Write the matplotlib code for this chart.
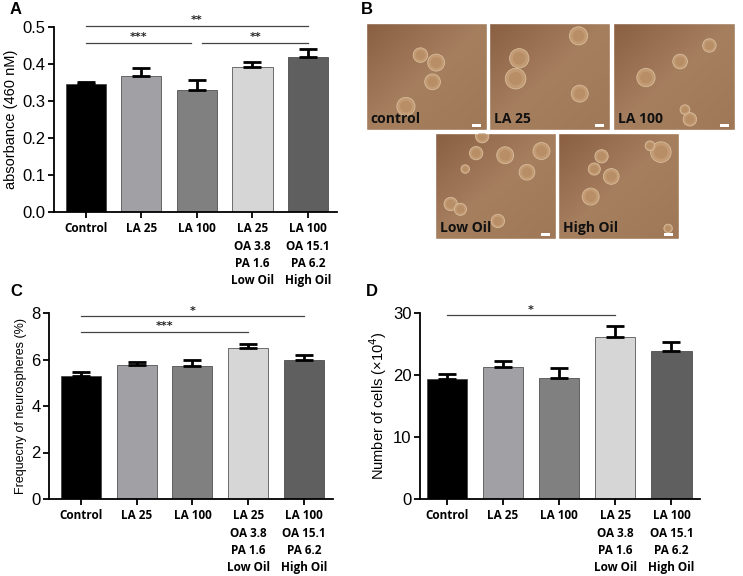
import numpy as np
import matplotlib
matplotlib.use("Agg")
import matplotlib.pyplot as plt
from matplotlib.patches import Ellipse

# groups and tick labels (shared by A, C, D)
groups = ["Control", "LA 25", "LA 100", "Low Oil", "High Oil"]
tick_labels = ["Control", "LA 25", "LA 100",
               "LA 25\nOA 3.8\nPA 1.6\nLow Oil",
               "LA 100\nOA 15.1\nPA 6.2\nHigh Oil"]
bar_colors = ["#000000", "#a1a1a5", "#808080", "#d6d6d6", "#5f5f5f"]

# A: absorbance
abs_mean = [0.345, 0.368, 0.329, 0.393, 0.419]
abs_err = [0.007, 0.021, 0.027, 0.013, 0.022]
abs_sig = [(0, 4, 0.503, "**"), (0, 2, 0.458, "***"), (2, 4, 0.458, "**")]

# C: neurosphere frequency
freq_mean = [5.29, 5.76, 5.71, 6.50, 6.00]
freq_err = [0.19, 0.14, 0.25, 0.16, 0.18]
freq_sig = [(0, 4, 7.86, "*"), (0, 3, 7.19, "***")]

# D: cell number
cells_mean = [19.3, 21.3, 19.5, 26.2, 23.8]
cells_err = [0.9, 0.9, 1.7, 1.7, 1.6]
cells_sig = [(0, 3, 29.6, "*")]

# B: micrograph panels, spheres as (x, y, r) in panel fractions
img_labels = ["control", "LA 25", "LA 100", "Low Oil", "High Oil"]
img_spheres = [
    [(0.45, 0.30, 0.06), (0.58, 0.37, 0.07), (0.55, 0.55, 0.065), (0.33, 0.78, 0.075)],
    [(0.74, 0.12, 0.075), (0.25, 0.33, 0.08), (0.22, 0.52, 0.085), (0.75, 0.66, 0.07)],
    [(0.79, 0.21, 0.055), (0.55, 0.36, 0.06), (0.27, 0.51, 0.075), (0.59, 0.81, 0.04), (0.63, 0.90, 0.055)],
    [(0.39, 0.03, 0.055), (0.34, 0.19, 0.055), (0.58, 0.21, 0.07), (0.88, 0.17, 0.07),
     (0.76, 0.37, 0.065), (0.25, 0.34, 0.035), (0.13, 0.67, 0.055), (0.21, 0.72, 0.05), (0.52, 0.83, 0.055)],
    [(0.85, 0.18, 0.085), (0.76, 0.12, 0.04), (0.36, 0.22, 0.055), (0.30, 0.34, 0.05),
     (0.44, 0.41, 0.065), (0.27, 0.60, 0.07), (0.91, 0.90, 0.035)],
]

W, H = 743, 576
fig = plt.figure(figsize=(W / 100, H / 100), dpi=100)


def px_axes(left, top, right, bottom):
    return fig.add_axes([left / W, 1 - bottom / H, (right - left) / W, (bottom - top) / H])


def bar_panel(ax, means, errs, sigs, ymax, yticks, yfmt, ylabel, ylsize, xlim):
    x = np.arange(len(means))
    ax.bar(x, means, width=0.72, color=bar_colors, edgecolor="#3a3a3a", linewidth=0.5, zorder=2)
    ax.errorbar(x, means, yerr=[np.zeros(len(errs)), errs], fmt="none",
                ecolor="black", elinewidth=2, capsize=6.5, capthick=2, zorder=3)
    for i0, i1, y, txt in sigs:
        a, b = i0, i1
        if i0 > 0:
            a += 0.1
        if i1 < 4 and any(s[0] == i1 for s in sigs):
            b -= 0.1
        ax.plot([a, b], [y, y], color="#444444", lw=0.9, clip_on=False)
        ax.text((a + b) / 2, y + ymax * 0.004, txt, ha="center", va="bottom",
                fontsize=8, fontweight="bold", color="#222222")
    ax.set_xlim(*xlim)
    ax.set_ylim(0, ymax)
    ax.set_yticks(yticks)
    ax.set_yticklabels([yfmt.format(v) for v in yticks], fontsize=12, family="Liberation Sans")
    ax.set_xticks(x)
    ax.set_xticklabels(tick_labels, fontsize=8.5, fontweight="bold", family="Open Sans",
                       linespacing=1.41, va="top")
    ax.set_ylabel(ylabel, fontsize=ylsize, family="Liberation Sans", labelpad=3)
    for s in ["top", "right"]:
        ax.spines[s].set_visible(False)
    for s in ["left", "bottom"]:
        ax.spines[s].set_linewidth(1.3)
    ax.tick_params(axis="both", direction="out", width=1.3, length=4, pad=2)
    ax.tick_params(axis="x", pad=3.5)


axA = px_axes(54, 27, 337, 212)
bar_panel(axA, abs_mean, abs_err, abs_sig, 0.5, [0, 0.1, 0.2, 0.3, 0.4, 0.5], "{:.1f}",
          "absorbance (460 nM)", 10.5, (-0.57, 4.52))

axC = px_axes(49, 313, 333, 499)
bar_panel(axC, freq_mean, freq_err, freq_sig, 8, [0, 2, 4, 6, 8], "{:.0f}",
          "Frequecny of neurospheres (%)", 9, (-0.57, 4.52))

axD = px_axes(420, 313, 700, 499)
bar_panel(axD, cells_mean, cells_err, cells_sig, 30, [0, 10, 20, 30], "{:.0f}",
          "Number of cells (×10$^4$)", 10.5, (-0.48, 4.51))

# B: micrograph placeholders
img_boxes = [(366, 23, 487, 130), (489, 23, 610, 130), (613, 23, 735, 130),
             (435, 133, 556, 239), (558, 133, 679, 239)]
grad = np.linspace(0, 1, 64)
bg = grad[None, :] * 0.5 + grad[:, None] * 0.5
brown = matplotlib.colors.LinearSegmentedColormap.from_list(
    "brown", ["#8a5f42", "#a67f5f", "#9f7858"])
for k, (l, t, r, b) in enumerate(img_boxes):
    ax = px_axes(l, t, r, b)
    ax.imshow(bg, extent=(0, 1, 1, 0), cmap=brown, aspect="auto", zorder=0)
    aspect = (r - l) / (b - t)
    for (sx, sy, sr) in img_spheres[k]:
        ax.add_patch(Ellipse((sx, sy), 2 * sr, 2 * sr * aspect, facecolor="#c29b74",
                             edgecolor="#d9bd9c", linewidth=0.6, zorder=2))
        ax.add_patch(Ellipse((sx, sy), 1.3 * sr, 1.3 * sr * aspect, facecolor="#b08259",
                             edgecolor="none", alpha=0.5, zorder=3))
    ax.text(0.04, 0.04, img_labels[k], transform=ax.transAxes, ha="left", va="bottom",
            fontsize=10, fontweight="bold", family="Open Sans", color="#111111", zorder=4)
    ax.add_patch(plt.Rectangle((0.88, 0.03), 0.07, 0.03, transform=ax.transAxes,
                               facecolor="white", edgecolor="none", zorder=4))
    ax.set_xlim(0, 1)
    ax.set_ylim(1, 0)
    ax.set_xticks([])
    ax.set_yticks([])
    for s in ax.spines.values():
        s.set_edgecolor("white")
        s.set_linewidth(1)

# panel letters
for letter, lx, ly in [("A", 10, 10), ("B", 361, 10), ("C", 10, 292), ("D", 366, 292)]:
    fig.text(lx / W, 1 - ly / H, letter, fontsize=12, fontweight="bold",
             family="Liberation Sans", ha="left", va="center")

fig.savefig("out.png", dpi=100)
